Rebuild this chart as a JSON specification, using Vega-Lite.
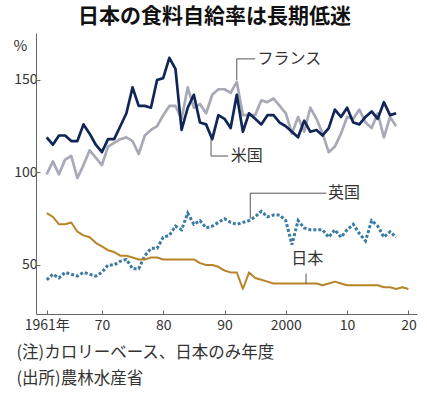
{
  "$schema": "https://vega.github.io/schema/vega-lite/v6.json",
  "width": 381,
  "height": 281,
  "autosize": {"type": "none"},
  "padding": {"left": 36, "top": 33, "right": 10, "bottom": 79},
  "background": "white",
  "config": {
    "font": "Noto Sans CJK JP",
    "view": {"stroke": null},
    "axis": {"grid": false, "domainColor": "#666666", "tickColor": "#666666", "labelColor": "#333333", "labelFont": "Noto Sans CJK JP", "labelFontSize": 14, "titleFont": "Noto Sans CJK JP", "titleFontWeight": "normal", "titleColor": "#333333"}
  },
  "title": {"text": "日本の食料自給率は長期低迷", "fontSize": 21, "fontWeight": "bold", "color": "#111111", "anchor": "middle", "dx": -12, "offset": 6, "font": "Noto Sans CJK JP"},
  "datasets": {
    "series": [
      {"country":"France","year":1961,"value":99},{"country":"France","year":1962,"value":106},{"country":"France","year":1963,"value":99},{"country":"France","year":1964,"value":107},{"country":"France","year":1965,"value":109},{"country":"France","year":1966,"value":97},{"country":"France","year":1967,"value":104},{"country":"France","year":1968,"value":112},{"country":"France","year":1969,"value":108},{"country":"France","year":1970,"value":104},{"country":"France","year":1971,"value":114},{"country":"France","year":1972,"value":116},{"country":"France","year":1973,"value":118},{"country":"France","year":1974,"value":119},{"country":"France","year":1975,"value":117},{"country":"France","year":1976,"value":110},{"country":"France","year":1977,"value":120},{"country":"France","year":1978,"value":123},{"country":"France","year":1979,"value":125},{"country":"France","year":1980,"value":131},{"country":"France","year":1981,"value":136},{"country":"France","year":1982,"value":136},{"country":"France","year":1983,"value":129},{"country":"France","year":1984,"value":146},{"country":"France","year":1985,"value":135},{"country":"France","year":1986,"value":137},{"country":"France","year":1987,"value":132},{"country":"France","year":1988,"value":142},{"country":"France","year":1989,"value":145},{"country":"France","year":1990,"value":145},{"country":"France","year":1991,"value":143},{"country":"France","year":1992,"value":149},{"country":"France","year":1993,"value":131},{"country":"France","year":1994,"value":131},{"country":"France","year":1995,"value":131},{"country":"France","year":1996,"value":139},{"country":"France","year":1997,"value":138},{"country":"France","year":1998,"value":140},{"country":"France","year":1999,"value":136},{"country":"France","year":2000,"value":132},{"country":"France","year":2001,"value":121},{"country":"France","year":2002,"value":130},{"country":"France","year":2003,"value":122},{"country":"France","year":2004,"value":135},{"country":"France","year":2005,"value":129},{"country":"France","year":2006,"value":121},{"country":"France","year":2007,"value":111},{"country":"France","year":2008,"value":114},{"country":"France","year":2009,"value":121},{"country":"France","year":2010,"value":130},{"country":"France","year":2011,"value":129},{"country":"France","year":2012,"value":134},{"country":"France","year":2013,"value":127},{"country":"France","year":2014,"value":124},{"country":"France","year":2015,"value":132},{"country":"France","year":2016,"value":119},{"country":"France","year":2017,"value":130},{"country":"France","year":2018,"value":125},
      {"country":"US","year":1961,"value":119},{"country":"US","year":1962,"value":115},{"country":"US","year":1963,"value":120},{"country":"US","year":1964,"value":120},{"country":"US","year":1965,"value":117},{"country":"US","year":1966,"value":117},{"country":"US","year":1967,"value":126},{"country":"US","year":1968,"value":121},{"country":"US","year":1969,"value":115},{"country":"US","year":1970,"value":111},{"country":"US","year":1971,"value":118},{"country":"US","year":1972,"value":118},{"country":"US","year":1973,"value":125},{"country":"US","year":1974,"value":132},{"country":"US","year":1975,"value":146},{"country":"US","year":1976,"value":136},{"country":"US","year":1977,"value":136},{"country":"US","year":1978,"value":135},{"country":"US","year":1979,"value":150},{"country":"US","year":1980,"value":151},{"country":"US","year":1981,"value":162},{"country":"US","year":1982,"value":156},{"country":"US","year":1983,"value":123},{"country":"US","year":1984,"value":135},{"country":"US","year":1985,"value":142},{"country":"US","year":1986,"value":127},{"country":"US","year":1987,"value":126},{"country":"US","year":1988,"value":118},{"country":"US","year":1989,"value":131},{"country":"US","year":1990,"value":129},{"country":"US","year":1991,"value":124},{"country":"US","year":1992,"value":142},{"country":"US","year":1993,"value":122},{"country":"US","year":1994,"value":132},{"country":"US","year":1995,"value":129},{"country":"US","year":1996,"value":126},{"country":"US","year":1997,"value":131},{"country":"US","year":1998,"value":131},{"country":"US","year":1999,"value":127},{"country":"US","year":2000,"value":125},{"country":"US","year":2001,"value":122},{"country":"US","year":2002,"value":119},{"country":"US","year":2003,"value":128},{"country":"US","year":2004,"value":122},{"country":"US","year":2005,"value":123},{"country":"US","year":2006,"value":120},{"country":"US","year":2007,"value":124},{"country":"US","year":2008,"value":134},{"country":"US","year":2009,"value":130},{"country":"US","year":2010,"value":135},{"country":"US","year":2011,"value":127},{"country":"US","year":2012,"value":126},{"country":"US","year":2013,"value":130},{"country":"US","year":2014,"value":133},{"country":"US","year":2015,"value":129},{"country":"US","year":2016,"value":138},{"country":"US","year":2017,"value":131},{"country":"US","year":2018,"value":132},
      {"country":"UK","year":1961,"value":42},{"country":"UK","year":1962,"value":45},{"country":"UK","year":1963,"value":43},{"country":"UK","year":1964,"value":46},{"country":"UK","year":1965,"value":45},{"country":"UK","year":1966,"value":44},{"country":"UK","year":1967,"value":46},{"country":"UK","year":1968,"value":45},{"country":"UK","year":1969,"value":44},{"country":"UK","year":1970,"value":46},{"country":"UK","year":1971,"value":50},{"country":"UK","year":1972,"value":50},{"country":"UK","year":1973,"value":52},{"country":"UK","year":1974,"value":53},{"country":"UK","year":1975,"value":48},{"country":"UK","year":1976,"value":48},{"country":"UK","year":1977,"value":55},{"country":"UK","year":1978,"value":59},{"country":"UK","year":1979,"value":59},{"country":"UK","year":1980,"value":65},{"country":"UK","year":1981,"value":66},{"country":"UK","year":1982,"value":71},{"country":"UK","year":1983,"value":69},{"country":"UK","year":1984,"value":78},{"country":"UK","year":1985,"value":72},{"country":"UK","year":1986,"value":74},{"country":"UK","year":1987,"value":70},{"country":"UK","year":1988,"value":71},{"country":"UK","year":1989,"value":73},{"country":"UK","year":1990,"value":75},{"country":"UK","year":1991,"value":73},{"country":"UK","year":1992,"value":72},{"country":"UK","year":1993,"value":73},{"country":"UK","year":1994,"value":74},{"country":"UK","year":1995,"value":76},{"country":"UK","year":1996,"value":79},{"country":"UK","year":1997,"value":76},{"country":"UK","year":1998,"value":77},{"country":"UK","year":1999,"value":77},{"country":"UK","year":2000,"value":74},{"country":"UK","year":2001,"value":61},{"country":"UK","year":2002,"value":74},{"country":"UK","year":2003,"value":70},{"country":"UK","year":2004,"value":69},{"country":"UK","year":2005,"value":69},{"country":"UK","year":2006,"value":69},{"country":"UK","year":2007,"value":65},{"country":"UK","year":2008,"value":69},{"country":"UK","year":2009,"value":65},{"country":"UK","year":2010,"value":69},{"country":"UK","year":2011,"value":72},{"country":"UK","year":2012,"value":67},{"country":"UK","year":2013,"value":63},{"country":"UK","year":2014,"value":74},{"country":"UK","year":2015,"value":71},{"country":"UK","year":2016,"value":65},{"country":"UK","year":2017,"value":68},{"country":"UK","year":2018,"value":65},
      {"country":"Japan","year":1961,"value":78},{"country":"Japan","year":1962,"value":76},{"country":"Japan","year":1963,"value":72},{"country":"Japan","year":1964,"value":72},{"country":"Japan","year":1965,"value":73},{"country":"Japan","year":1966,"value":68},{"country":"Japan","year":1967,"value":66},{"country":"Japan","year":1968,"value":65},{"country":"Japan","year":1969,"value":62},{"country":"Japan","year":1970,"value":60},{"country":"Japan","year":1971,"value":58},{"country":"Japan","year":1972,"value":57},{"country":"Japan","year":1973,"value":55},{"country":"Japan","year":1974,"value":55},{"country":"Japan","year":1975,"value":54},{"country":"Japan","year":1976,"value":53},{"country":"Japan","year":1977,"value":53},{"country":"Japan","year":1978,"value":54},{"country":"Japan","year":1979,"value":54},{"country":"Japan","year":1980,"value":53},{"country":"Japan","year":1981,"value":53},{"country":"Japan","year":1982,"value":53},{"country":"Japan","year":1983,"value":53},{"country":"Japan","year":1984,"value":53},{"country":"Japan","year":1985,"value":53},{"country":"Japan","year":1986,"value":51},{"country":"Japan","year":1987,"value":50},{"country":"Japan","year":1988,"value":50},{"country":"Japan","year":1989,"value":49},{"country":"Japan","year":1990,"value":47},{"country":"Japan","year":1991,"value":46},{"country":"Japan","year":1992,"value":46},{"country":"Japan","year":1993,"value":37},{"country":"Japan","year":1994,"value":46},{"country":"Japan","year":1995,"value":43},{"country":"Japan","year":1996,"value":42},{"country":"Japan","year":1997,"value":41},{"country":"Japan","year":1998,"value":40},{"country":"Japan","year":1999,"value":40},{"country":"Japan","year":2000,"value":40},{"country":"Japan","year":2001,"value":40},{"country":"Japan","year":2002,"value":40},{"country":"Japan","year":2003,"value":40},{"country":"Japan","year":2004,"value":40},{"country":"Japan","year":2005,"value":40},{"country":"Japan","year":2006,"value":39},{"country":"Japan","year":2007,"value":40},{"country":"Japan","year":2008,"value":41},{"country":"Japan","year":2009,"value":40},{"country":"Japan","year":2010,"value":39},{"country":"Japan","year":2011,"value":39},{"country":"Japan","year":2012,"value":39},{"country":"Japan","year":2013,"value":39},{"country":"Japan","year":2014,"value":39},{"country":"Japan","year":2015,"value":39},{"country":"Japan","year":2016,"value":38},{"country":"Japan","year":2017,"value":38},{"country":"Japan","year":2018,"value":37},{"country":"Japan","year":2019,"value":38},{"country":"Japan","year":2020,"value":37}
    ],
    "leaders": [
      {"year":1992,"value":150,"year2":1992,"value2":161.4},
      {"year":1992,"value":161.4,"year2":1995,"value2":161.4},
      {"year":1987.8,"value":118,"year2":1987.8,"value2":108.9},
      {"year":1987.8,"value":108.9,"year2":1990.6,"value2":108.9},
      {"year":1994.2,"value":75,"year2":1994.2,"value2":88.8},
      {"year":1994.2,"value":88.8,"year2":2006.6,"value2":88.8},
      {"year":2003.3,"value":40,"year2":2003.3,"value2":45.4}
    ],
    "labels": [
      {"label":"フランス","year":1995.4,"value":161.4},
      {"label":"米国","year":1991.0,"value":108.9},
      {"label":"英国","year":2006.9,"value":88.8},
      {"label":"日本","year":2000.9,"value":53.2}
    ]
  },
  "encoding": {
    "x": {"field": "year", "type": "quantitative",
      "scale": {"domain": [1959.25, 2021.4], "nice": false, "zero": false},
      "axis": {"values": [1961, 1970, 1980, 1990, 2000, 2010, 2020],
        "labelExpr": "datum.value == 1961 ? '1961年' : datum.value == 2000 ? '2000' : substring(toString(datum.value), 2)",
        "tickSize": -4, "labelPadding": 8, "labelFlush": false,
        "title": ["(注)カロリーベース、日本のみ年度", "(出所)農林水産省"],
        "titleFontSize": 16.5, "titleAlign": "left", "titleAnchor": "start", "titleBaseline": "top",
        "titleX": -20, "titleY": 30, "titleLineHeight": 26}},
    "y": {"field": "value", "type": "quantitative",
      "scale": {"domain": [23.5, 175.4], "nice": false, "zero": false},
      "axis": {"values": [50, 100, 150], "tickSize": -4, "labelPadding": 3,
        "title": "%", "titleAngle": 0, "titleX": -16, "titleY": 12, "titleAlign": "center", "titleBaseline": "middle", "titleFontSize": 15}}
  },
  "layer": [
    {"data": {"name": "series"}, "transform": [{"filter": "datum.country == 'France'"}],
      "mark": {"type": "line", "color": "#a7a9b6", "strokeWidth": 2.7, "strokeJoin": "round"}},
    {"data": {"name": "series"}, "transform": [{"filter": "datum.country == 'US'"}],
      "mark": {"type": "line", "color": "#0f2657", "strokeWidth": 2.7, "strokeJoin": "round"}},
    {"data": {"name": "series"}, "transform": [{"filter": "datum.country == 'UK'"}],
      "mark": {"type": "line", "color": "#3b7ba3", "strokeWidth": 3, "strokeDash": [3, 2]}},
    {"data": {"name": "series"}, "transform": [{"filter": "datum.country == 'Japan'"}],
      "mark": {"type": "line", "color": "#b8842a", "strokeWidth": 2, "strokeJoin": "round"}},
    {"data": {"name": "leaders"},
      "mark": {"type": "rule", "color": "#555555", "strokeWidth": 1},
      "encoding": {"x2": {"field": "year2"}, "y2": {"field": "value2"}}},
    {"data": {"name": "labels"},
      "mark": {"type": "text", "align": "left", "baseline": "middle", "fontSize": 16, "color": "#333333", "font": "Noto Sans CJK JP"},
      "encoding": {"text": {"field": "label"}}}
  ]
}
